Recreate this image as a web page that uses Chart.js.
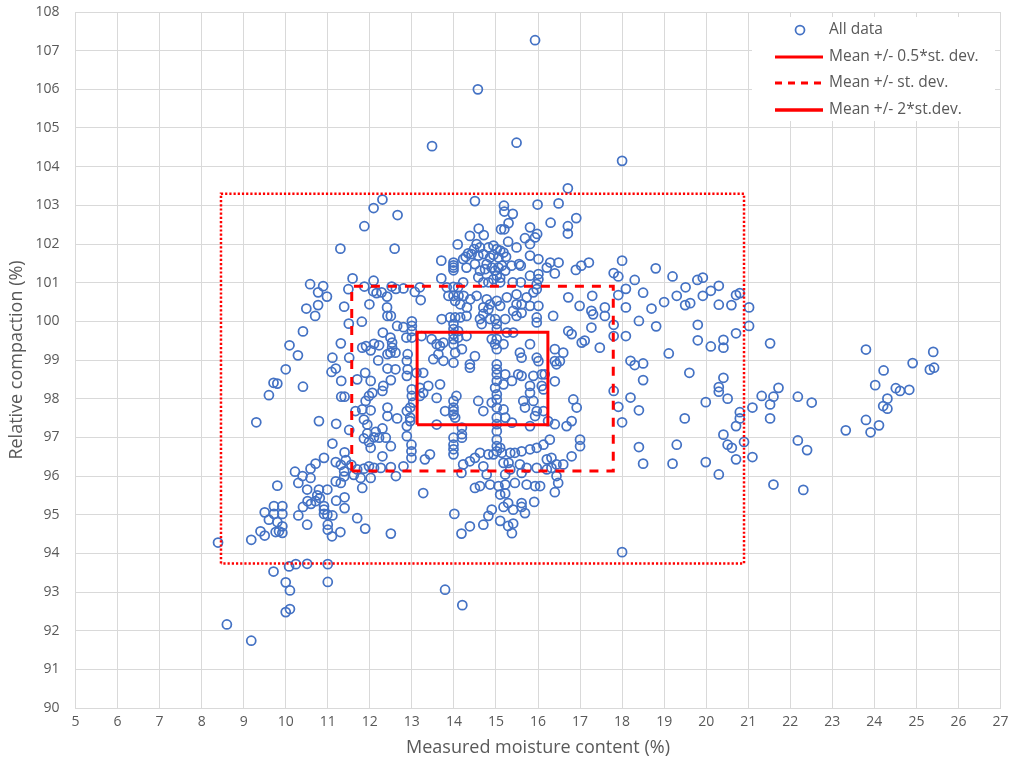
<!DOCTYPE html>
<html>
<head>
<meta charset="utf-8">
<script src="https://cdn.jsdelivr.net/npm/chart.js@4.4.1/dist/chart.umd.min.js"></script>
<style>
  body { margin: 0; background: #ffffff; }
  #wrap { width: 1013px; height: 764px; }
</style>
</head>
<body>
<div id="wrap"><canvas id="chartCanvas" width="1013" height="764"></canvas></div>
<script>
// meetpunten: [vochtgehalte %, relatieve verdichting %]
const allDataPoints = [
  [12.30,103.15],[12.09,102.93],[12.66,102.75],[11.87,102.46],[11.30,101.88],[12.59,101.88],[11.59,101.11],[12.09,101.05],
  [10.58,100.96],[10.89,100.91],[10.77,100.75],[10.98,100.64],[11.49,100.83],[11.87,100.90],[12.08,100.78],[12.16,100.73],
  [12.28,100.75],[12.41,100.64],[12.52,100.90],[12.62,100.84],[10.49,100.33],[10.77,100.42],[11.39,100.38],[11.99,100.44],[12.41,100.36],
  [14.57,106.00],[15.93,107.27],
  [13.48,104.53],[15.49,104.62],[16.71,103.44],[14.50,103.11],[15.19,102.99],[15.20,102.84],[15.40,102.78],[15.99,103.02],
  [16.49,103.05],[16.91,102.67],[16.30,102.55],[16.71,102.46],[16.71,102.27],[15.30,102.54],[15.12,102.38],[15.20,102.38],
  [14.59,102.40],[14.71,102.23],[14.38,102.21],[15.29,102.06],[15.81,102.43],[15.98,102.26],[15.93,102.17],[15.69,102.15],
  [15.81,102.00],[15.49,101.91],[14.09,101.99],
  [14.54,102.00],[14.62,101.91],[14.48,101.87],[14.42,101.74],[14.34,101.76],[14.28,101.67],
  [14.70,101.74],[14.82,101.91],[14.94,101.96],[15.02,101.87],[14.86,101.65],[14.94,101.72],[15.06,101.65],
  [15.10,101.83],[15.18,101.78],[15.24,101.67],
  [13.99,101.52],[13.99,101.45],[13.99,101.39],[13.99,101.32],
  [13.70,101.57],[13.70,101.11],[14.22,101.61],[14.30,101.39],[14.50,101.48],[14.58,101.70],
  [14.78,101.48],[14.74,101.35],[14.62,101.31],[14.58,101.14],
  [14.90,101.39],[14.98,101.31],[15.02,101.18],[14.94,101.09],[15.10,101.13],[15.06,101.39],
  [15.14,101.44],[15.22,101.31],[15.37,101.44],[15.59,101.44],[15.55,101.48],
  [15.81,101.70],[16.01,101.61],[16.21,101.39],[16.29,101.52],[16.49,101.52],[16.40,101.24],
  [16.90,101.33],[17.03,101.44],[17.21,101.52],
  [15.81,101.18],[16.01,101.22],[16.01,101.09],[15.97,100.96],[15.59,101.01],[15.40,101.01],
  [15.10,101.01],[14.82,101.01],[14.70,101.01],
  [14.22,101.01],[14.10,100.88],[13.99,100.89],[13.83,100.88],[13.19,100.88],[13.07,100.76],[12.80,100.85],
  [13.21,100.55],
  [13.87,100.66],[13.99,100.66],[14.11,100.66],[14.23,100.66],[14.03,100.53],[14.15,100.44],[14.31,100.36],
  [14.39,100.57],[14.54,100.66],[14.78,100.57],[15.02,100.53],[15.26,100.62],[15.49,100.70],[15.73,100.62],[15.89,100.75],[15.97,100.83],
  [15.49,100.44],[15.41,100.27],[14.86,100.44],[14.82,100.31],[14.70,100.36],[15.10,100.40],[15.61,100.44],
  [15.81,100.40],[16.01,100.40],[16.72,100.62],[16.99,100.40],[17.29,100.66],[17.27,100.27],
  [18.00,104.15],[18.00,101.57],[17.80,101.25],[17.91,101.16],[18.30,101.07],[18.80,101.37],[19.20,101.16],[18.09,100.84],
  [17.91,100.68],[18.50,100.74],[18.70,100.33],[18.09,100.36],[17.59,100.36],[19.00,100.50],[19.30,100.66],[19.51,100.88],
  [19.50,100.42],[19.62,100.47],[19.79,101.07],[19.92,101.13],[19.92,100.66],[20.11,100.79],[20.30,100.92],[20.30,100.43],
  [20.60,100.42],[20.71,100.68],[20.80,100.73],[21.02,100.36],
  [10.70,100.14],[11.50,99.94],[11.81,99.99],[10.41,99.74],[10.09,99.38],[10.29,99.12],[10.00,98.76],[9.71,98.41],[9.80,98.39],
  [10.41,98.31],[9.60,98.09],[9.30,97.39],[10.79,97.42],[11.20,97.35],
  [11.31,99.43],[11.51,99.06],[11.11,99.06],[11.19,98.78],[11.09,98.69],[11.32,98.46],[11.32,98.05],[11.40,98.05],[11.70,98.50],
  [11.89,98.67],[12.02,98.46],
  [11.82,99.32],[11.91,99.36],[12.10,99.42],[12.22,99.38],[12.02,99.25],
  [12.31,99.71],[12.49,99.58],[12.53,99.45],[12.53,99.32],[12.49,99.19],[12.61,99.19],[12.42,99.15],[12.65,99.88],[12.42,100.14],[12.50,100.14],
  [12.20,98.99],[12.42,98.78],[12.61,98.76],[12.50,98.48],[12.32,98.33],[12.30,98.20],[12.06,98.15],[11.98,98.07],[11.90,97.94],
  [12.02,97.70],[11.82,97.72],[11.86,97.46],[11.94,97.33],[11.66,97.68],[11.51,97.19],[12.42,97.77],[12.42,97.55],[12.65,97.49],
  [12.30,97.23],[12.14,97.14],[12.10,97.00],[11.94,97.10],[11.86,96.97],[11.98,96.88],[12.02,96.73],[12.22,96.99],[12.38,96.99],
  [12.50,96.77],[12.30,96.51],
  [11.11,96.84],[11.40,96.61],[11.19,96.36],[11.31,96.29],[11.43,96.41],[10.91,96.47],
  [10.71,96.32],[10.59,96.19],[10.22,96.11],[10.40,96.00],[10.59,95.95],
  [11.56,96.29],[11.70,96.17],[11.86,96.19],[11.98,96.25],[12.10,96.21],[12.26,96.21],[12.50,96.23],[12.62,96.00],
  [11.39,96.12],[11.39,95.99],[11.62,96.03],[11.78,95.95],[12.02,95.95],[11.19,95.86],[11.31,95.82],
  [9.80,95.75],[10.30,95.82],[10.51,95.65],[10.79,95.65],[10.99,95.65],[11.82,95.69],
  [10.75,95.50],[10.81,95.43],[10.71,95.35],[10.60,95.28],[10.52,95.35],[10.41,95.20],[10.91,95.22],[10.91,95.13],[10.91,95.02],
  [10.99,95.00],[11.11,94.98],[11.20,95.36],[11.40,95.45],[11.40,95.17],
  [11.00,94.74],[11.00,94.61],[11.10,94.44],[11.30,94.55],[11.70,94.91],[11.89,94.64],[12.50,94.51],[10.51,94.74],[10.30,94.98],
  [9.50,95.06],[9.72,95.22],[9.92,95.22],[9.72,95.02],[9.92,95.02],[9.60,94.87],[9.80,94.81],[9.92,94.70],[9.84,94.57],
  [9.76,94.55],[9.92,94.53],
  [9.40,94.57],[9.50,94.46],[9.18,94.35],[8.39,94.28],
  [10.08,93.66],[10.24,93.72],[10.51,93.73],[11.00,93.72],[9.71,93.53],[10.00,93.25],[10.10,93.04],[11.00,93.26],
  [10.00,92.48],[10.10,92.56],[8.60,92.16],[9.18,91.74],
  [13.00,100.00],[13.00,99.88],[13.00,99.75],[13.00,99.58],[12.87,99.58],[12.80,99.85],
  [13.23,99.62],[13.47,99.54],
  [13.71,100.06],[13.91,100.10],[14.03,100.10],[14.15,100.10],[14.30,100.14],[14.62,100.06],[14.70,100.19],[14.66,99.93],
  [13.99,99.93],[13.99,99.80],[13.99,99.67],[13.99,99.54],[13.99,99.41],
  [14.10,99.75],[14.10,99.58],[14.30,99.62],
  [13.75,99.45],[13.59,99.41],[13.67,99.36],
  [14.19,99.28],[14.03,99.19],
  [14.50,99.10],[14.38,98.89],[14.38,98.80],
  [14.86,100.06],[14.98,100.06],[15.02,99.93],[15.02,99.80],
  [14.90,99.54],[15.02,99.54],[14.98,99.41],[15.02,99.28],[15.18,99.41],
  [15.26,99.71],[15.41,99.71],
  [15.22,100.06],[15.49,100.14],[15.61,100.22],
  [15.97,100.10],[15.97,99.97],
  [16.36,100.14],[16.72,99.75],[16.80,99.67],[17.04,99.45],[17.11,99.50],[17.27,99.84],[17.31,100.18],
  [15.81,99.41],[15.57,99.19],[15.61,99.06],[15.97,99.06],[16.01,98.97],[16.40,98.97],
  [16.60,99.19],[16.40,99.28],[16.44,98.89],[16.52,98.97],
  [15.53,98.63],[15.61,98.59],
  [15.02,98.89],[15.02,98.76],[15.02,98.63],[15.02,98.46],[14.98,98.28],
  [15.02,98.11],[15.02,97.98],[15.02,97.77],[15.02,97.51],[15.02,97.34],[15.02,97.16],[15.02,96.94],[15.02,96.77],[15.02,96.64],
  [15.22,98.63],[15.18,98.37],[15.38,98.46],
  [15.81,98.33],[15.81,98.15],[15.89,98.59],[16.09,98.63],[16.09,98.33],
  [13.75,98.98],[13.99,98.93],[13.51,99.02],[13.63,99.15],
  [13.27,98.67],[13.39,98.33],[13.27,98.15],[13.19,98.07],[13.67,98.37],[13.59,98.02],
  [13.00,98.24],[13.00,98.07],[13.03,97.90],[12.96,97.77],[12.88,97.68],[12.96,97.51],[12.96,97.42],
  [14.06,98.07],[13.99,97.94],[13.99,97.77],[13.99,97.68],[14.03,97.51],[13.99,97.59],
  [13.79,97.68],[14.58,97.94],[14.70,97.68],[14.90,97.90],
  [15.18,97.72],[15.22,97.51],
  [15.38,97.38],[15.69,97.77],[15.81,97.29],[15.97,97.68],[16.13,97.68],[15.93,97.55],
  [16.40,97.34],[16.68,97.29],[16.80,97.42],[16.84,97.98],[16.92,97.77],[16.24,97.42],
  [13.59,97.33],
  [14.19,97.25],[14.19,97.08],[14.19,96.99],
  [13.99,96.99],[13.99,96.81],[13.99,96.69],[13.99,96.56],
  [12.88,97.29],[12.88,97.03],[12.99,96.81],[12.99,96.64],[12.99,96.47],
  [13.31,96.43],[13.43,96.56],[12.80,96.25],
  [14.38,96.38],[14.50,96.47],[14.62,96.60],
  [14.82,96.56],[14.94,96.56],
  [15.10,96.73],[15.14,96.60],
  [15.34,96.60],[15.45,96.60],[15.61,96.64],[15.81,96.69],[15.97,96.73],[16.13,96.81],[16.28,96.94],
  [16.21,96.43],[16.32,96.47],
  [16.80,96.51],[17.00,96.94],[17.00,96.77],
  [14.22,96.30],[14.18,96.08],
  [14.70,96.25],[14.78,96.04],
  [15.18,96.34],[15.30,96.34],[15.34,96.17],[15.22,96.04],
  [15.57,96.30],[15.61,96.08],[15.73,96.21],
  [15.97,96.21],[16.21,96.17],[16.32,96.21],[16.44,96.30],[16.60,96.30],
  [16.05,95.74],[15.93,95.74],[15.73,95.78],[15.45,95.82],[15.22,95.78],[15.06,95.74],[14.86,95.78],[14.62,95.74],[14.50,95.69],
  [16.48,95.82],[16.44,96.00],
  [12.90,99.15],[12.88,98.98],[12.90,98.76],[12.88,98.59],
  [13.19,98.28],[13.11,98.67],
  [16.16,98.63],[16.40,98.45],[16.13,98.24],
  [15.65,97.94],[15.89,97.94],
  [13.27,95.56],[14.01,95.02],[14.18,94.51],[14.38,94.70],[14.70,94.74],[14.82,94.97],[14.90,95.13],[15.10,94.84],[15.18,95.20],
  [15.29,95.30],[15.41,95.13],[15.29,94.71],[15.41,94.77],[15.38,94.52],[15.61,95.30],[15.61,95.20],[15.69,95.04],[15.91,95.33],
  [15.10,95.52],[15.22,95.55],[16.40,95.58],[13.79,93.06],[14.20,92.66],
  [17.59,100.14],[17.80,99.91],[17.80,99.62],[18.09,99.62],[18.40,100.01],[18.81,99.87],[17.47,99.32],[18.20,98.98],[18.30,98.87],
  [18.50,98.91],[18.50,98.48],[19.11,99.17],[19.60,98.67],[19.80,99.91],[19.80,99.51],[20.11,99.35],[20.41,99.52],[20.41,99.32],
  [20.71,99.69],[21.02,99.88],[21.52,99.43],
  [20.41,98.54],[20.30,98.30],[20.30,98.18],[20.51,98.00],
  [17.80,98.20],[18.20,98.03],[17.91,97.79],[18.40,97.70],[18.00,97.39],[19.49,97.49],[19.99,97.91],
  [20.80,97.65],[20.80,97.49],[20.71,97.29],[21.10,97.77],[21.32,98.07],[21.60,98.05],[21.72,98.28],[21.52,97.85],[21.52,97.49],
  [20.41,97.07],[20.51,96.81],[20.61,96.73],[20.90,96.88],[20.71,96.43],[21.10,96.49],
  [18.40,96.75],[18.50,96.32],[19.20,96.32],[19.30,96.81],[19.99,96.36],[20.30,96.04],
  [21.60,95.78],[22.18,98.05],[22.18,96.92],
  [22.51,97.90],[22.40,96.67],[22.31,95.64],[23.80,99.27],[23.32,97.18],[23.80,97.45],[23.91,97.13],[24.11,97.31],[24.02,98.35],
  [24.22,98.73],[24.31,98.00],[24.21,97.81],[24.31,97.74],[24.51,98.27],[24.61,98.20],[24.83,98.23],[24.91,98.92],[25.40,99.21],
  [25.32,98.75],[25.42,98.80],
  [18.00,94.03]
];

const moistureStats = [14.68, 3.11];     // [gemiddelde, st. dev.]
const compactionStats = [98.52, 2.39];
const sdFactors = [0.5, 1, 2];
const seriesLabels = ["All data", "Mean +/- 0.5*st. dev.", "Mean +/- st. dev.", "Mean +/- 2*st.dev."];
const xAxisRange = [5, 27];
const yAxisRange = [90, 108];

const BLUE = "#4472C4";
const RED = "#FF0000";
const TEXT = "#595959";
const GRID = "#D9D9D9";
const FONT = "'Open Sans', 'Liberation Sans', sans-serif";

// rechthoek rond het gemiddelde (k keer de st. dev.)
function sdBox(k) {
  const x0 = moistureStats[0] - k * moistureStats[1];
  const x1 = moistureStats[0] + k * moistureStats[1];
  const y0 = compactionStats[0] - k * compactionStats[1];
  const y1 = compactionStats[0] + k * compactionStats[1];
  return [
    { x: x0, y: y0 }, { x: x0, y: y1 }, { x: x1, y: y1 }, { x: x1, y: y0 }, { x: x0, y: y0 }
  ];
}

const boxStyles = [
  { width: 3, dash: [] },
  { width: 3, dash: [9, 8] },
  { width: 2.5, dash: [2.2, 2] }
];

const datasets = [
  {
    label: seriesLabels[0],
    data: allDataPoints.map((p) => ({ x: p[0], y: p[1] })),
    pointStyle: "circle",
    pointRadius: 4.5,
    pointBorderWidth: 1.75,
    pointBorderColor: BLUE,
    pointBackgroundColor: "rgba(0,0,0,0)",
    showLine: false,
    order: 5
  }
];
sdFactors.forEach((k, i) => {
  datasets.push({
    label: seriesLabels[i + 1],
    data: sdBox(k),
    showLine: true,
    borderColor: RED,
    borderWidth: boxStyles[i].width,
    borderDash: boxStyles[i].dash,
    pointRadius: 0,
    tension: 0,
    fill: false,
    order: i
  });
});

// legenda binnen het plotgebied, rechtsboven, met witte achtergrond
const insideLegend = {
  id: "insideLegend",
  afterDraw(chart) {
    const ctx = chart.ctx;
    ctx.save();
    ctx.fillStyle = "#ffffff";
    ctx.fillRect(752, 17, 243, 104);
    const rows = [30, 57, 83, 110];
    ctx.font = "15.5px " + FONT;
    ctx.textBaseline = "middle";
    ctx.textAlign = "left";
    rows.forEach((y, i) => {
      if (i === 0) {
        ctx.beginPath();
        ctx.arc(800, y, 4.5, 0, Math.PI * 2);
        ctx.strokeStyle = BLUE;
        ctx.lineWidth = 1.75;
        ctx.stroke();
      } else {
        ctx.beginPath();
        ctx.setLineDash(i === 2 ? [7, 6] : []);
        ctx.strokeStyle = RED;
        ctx.lineWidth = i === 3 ? 3.5 : 3;
        ctx.moveTo(775, y);
        ctx.lineTo(823, y);
        ctx.stroke();
        ctx.setLineDash([]);
      }
      ctx.fillStyle = TEXT;
      ctx.fillText(seriesLabels[i], 829, y);
    });
    ctx.restore();
  }
};

new Chart(document.getElementById("chartCanvas").getContext("2d"), {
  type: "scatter",
  data: { datasets: datasets },
  plugins: [insideLegend],
  options: {
    responsive: false,
    animation: false,
    events: [],
    layout: { padding: { left: 0, right: 12.5, top: 12, bottom: 0 } },
    plugins: { legend: { display: false }, tooltip: { enabled: false } },
    scales: {
      x: {
        type: "linear",
        min: xAxisRange[0],
        max: xAxisRange[1],
        ticks: { stepSize: 1, color: TEXT, padding: 6, font: { family: FONT, size: 14 } },
        grid: { color: GRID, lineWidth: 1, drawTicks: false },
        border: { color: GRID },
        title: {
          display: true,
          text: "Measured moisture content (%)",
          color: TEXT,
          font: { family: FONT, size: 18 },
          padding: { top: 4, bottom: 5 }
        },
        afterFit(scale) {
          scale.height = 56;
          scale.paddingLeft = 0;
          scale.paddingRight = 0;
        }
      },
      y: {
        type: "linear",
        min: yAxisRange[0],
        max: yAxisRange[1],
        ticks: { stepSize: 1, color: TEXT, padding: 16, font: { family: FONT, size: 14 } },
        grid: { color: GRID, lineWidth: 1, drawTicks: false },
        border: { color: GRID },
        title: {
          display: true,
          text: "Relative compaction (%)",
          color: TEXT,
          font: { family: FONT, size: 18 },
          padding: { top: 6, bottom: 4 }
        },
        afterFit(scale) {
          scale.width = 75.5;
          scale.paddingTop = 0;
          scale.paddingBottom = 0;
        }
      }
    }
  }
});
</script>
</body>
</html>
